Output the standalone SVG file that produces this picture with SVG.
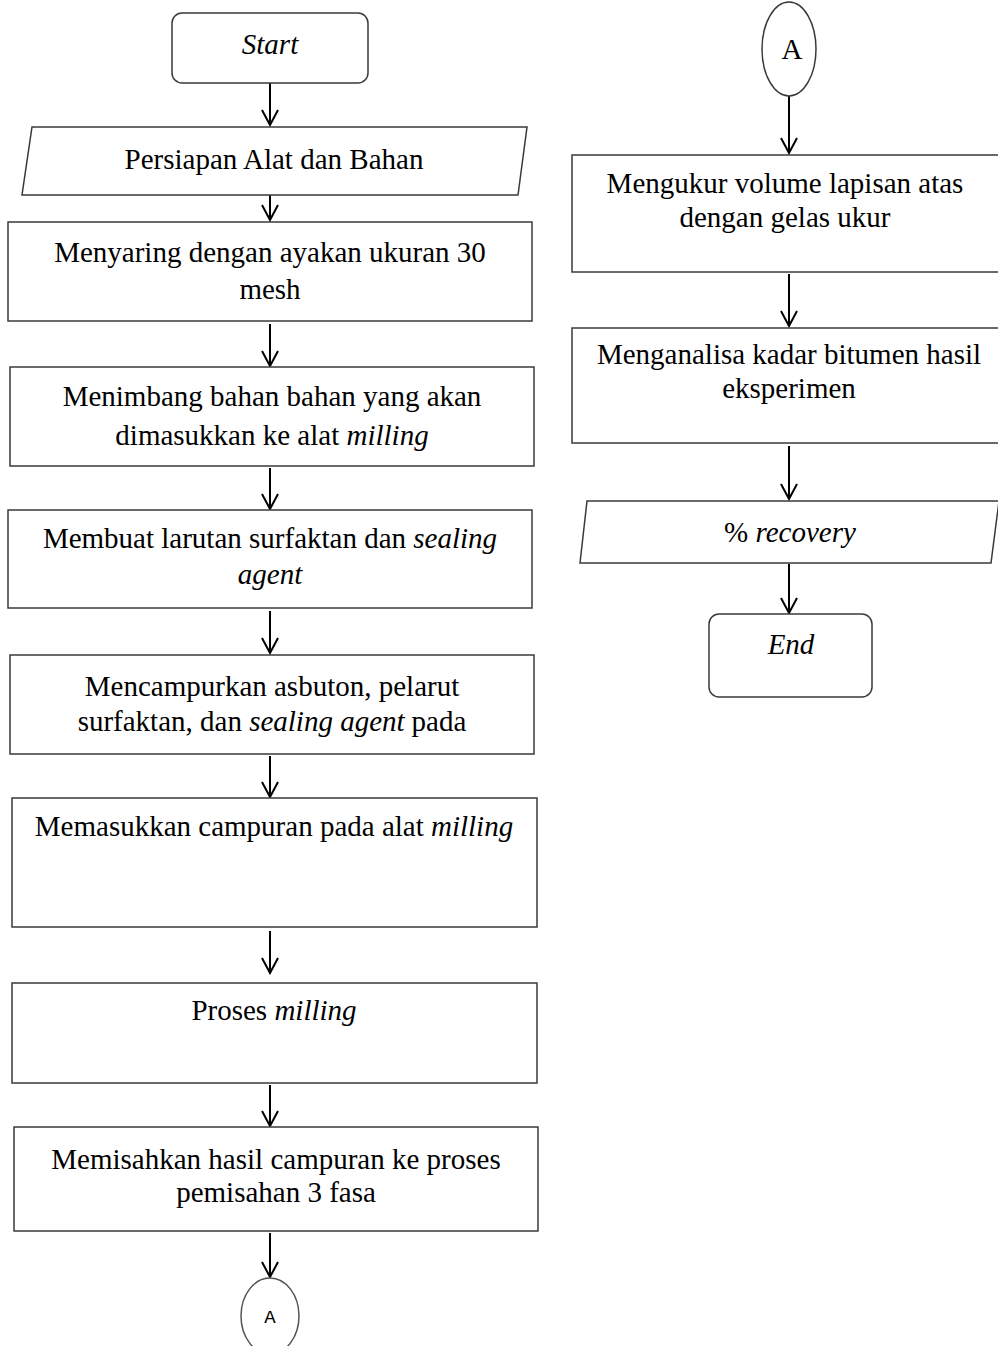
<svg xmlns="http://www.w3.org/2000/svg" width="998" height="1346" viewBox="0 0 998 1346">
<style>
.b{fill:#fff;stroke:#3a3a3a;stroke-width:1.5}
.t{font-family:"Liberation Serif","Times New Roman",serif;font-size:29px;fill:#000;text-anchor:middle}
.i{font-style:italic}
.c{stroke:#000;stroke-width:2;fill:none}
</style>
<defs>
<marker id="arr" markerUnits="userSpaceOnUse" viewBox="-17 -10 19 20" refX="0" refY="0" markerWidth="19" markerHeight="20" orient="auto">
<path d="M-15,-8 L0,0 L-15,8" fill="none" stroke="#000" stroke-width="2"/>
</marker>
</defs>
<rect width="998" height="1346" fill="#fff"/>
<g id="connectors">
<line class="c" x1="270" y1="83" x2="270" y2="125" marker-end="url(#arr)"/>
<line class="c" x1="270" y1="178" x2="270" y2="220" marker-end="url(#arr)"/>
<line class="c" x1="270" y1="324" x2="270" y2="366" marker-end="url(#arr)"/>
<line class="c" x1="270" y1="468" x2="270" y2="509" marker-end="url(#arr)"/>
<line class="c" x1="270" y1="611" x2="270" y2="653" marker-end="url(#arr)"/>
<line class="c" x1="270" y1="756" x2="270" y2="797" marker-end="url(#arr)"/>
<line class="c" x1="270" y1="931" x2="270" y2="973" marker-end="url(#arr)"/>
<line class="c" x1="270" y1="1085" x2="270" y2="1126" marker-end="url(#arr)"/>
<line class="c" x1="270" y1="1233" x2="270" y2="1277" marker-end="url(#arr)"/>
<line class="c" x1="789" y1="96" x2="789" y2="153" marker-end="url(#arr)"/>
<line class="c" x1="789" y1="274" x2="789" y2="326" marker-end="url(#arr)"/>
<line class="c" x1="789" y1="446" x2="789" y2="499" marker-end="url(#arr)"/>
<line class="c" x1="789" y1="564" x2="789" y2="613" marker-end="url(#arr)"/>
</g>
<g id="start">
<rect class="b" x="172" y="13" width="196" height="70" rx="10"/>
<text class="t i" x="270" y="54">Start</text>
</g>
<g id="persiapan">
<polygon class="b" points="32,127 527,127 518,195 22,195"/>
<text class="t" x="274" y="169">Persiapan Alat dan Bahan</text>
</g>
<g id="menyaring">
<rect class="b" x="8" y="222" width="524" height="99"/>
<text class="t" x="270" y="262">Menyaring dengan ayakan ukuran 30</text>
<text class="t" x="270" y="299">mesh</text>
</g>
<g id="menimbang">
<rect class="b" x="10" y="367" width="524" height="99"/>
<text class="t" x="272" y="406">Menimbang bahan bahan yang akan</text>
<text class="t" x="272" y="445">dimasukkan ke alat <tspan class="i">milling</tspan></text>
</g>
<g id="membuat">
<rect class="b" x="8" y="510" width="524" height="98"/>
<text class="t" x="270" y="548">Membuat larutan surfaktan dan <tspan class="i">sealing</tspan></text>
<text class="t i" x="270" y="584">agent</text>
</g>
<g id="mencampurkan">
<rect class="b" x="10" y="655" width="524" height="99"/>
<text class="t" x="272" y="696">Mencampurkan asbuton, pelarut</text>
<text class="t" x="272" y="731">surfaktan, dan <tspan class="i">sealing agent</tspan><tspan dx="7">pada</tspan></text>
</g>
<g id="memasukkan">
<rect class="b" x="12" y="798" width="525" height="129"/>
<text class="t" x="274" y="836">Memasukkan campuran pada alat <tspan class="i">milling</tspan></text>
</g>
<g id="proses">
<rect class="b" x="12" y="983" width="525" height="100"/>
<text class="t" x="274" y="1020">Proses <tspan class="i">milling</tspan></text>
</g>
<g id="memisahkan">
<rect class="b" x="14" y="1127" width="524" height="104"/>
<text class="t" x="276" y="1169">Memisahkan hasil campuran ke proses</text>
<text class="t" x="276" y="1202">pemisahan 3 fasa</text>
</g>
<g id="connectorA1">
<ellipse fill="#fff" stroke="#555" stroke-width="1.5" cx="270" cy="1316" rx="29" ry="38"/>
<text x="270" y="1323" text-anchor="middle" style="font-family:'Liberation Mono','Courier New',monospace;font-size:19px;fill:#000">A</text>
</g>
<g id="connectorA2">
<ellipse class="b" cx="789" cy="49" rx="27" ry="47"/>
<text class="t" x="792" y="59">A</text>
</g>
<g id="mengukur">
<rect class="b" x="572" y="155" width="428" height="117"/>
<text class="t" x="785" y="193">Mengukur volume lapisan atas</text>
<text class="t" x="785" y="227">dengan gelas ukur</text>
</g>
<g id="menganalisa">
<rect class="b" x="572" y="328" width="428" height="115"/>
<text class="t" x="789" y="364">Menganalisa kadar bitumen hasil</text>
<text class="t" x="789" y="398">eksperimen</text>
</g>
<g id="recovery">
<polygon class="b" points="587,501 999,501 991,563 580,563"/>
<text class="t" x="790" y="542">% <tspan class="i">recovery</tspan></text>
</g>
<g id="end">
<rect class="b" x="709" y="614" width="163" height="83" rx="10"/>
<text class="t i" x="791" y="654">End</text>
</g>
</svg>
